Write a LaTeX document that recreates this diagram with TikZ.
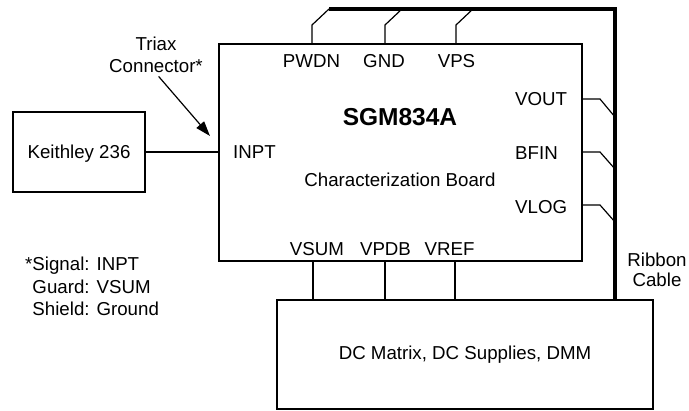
\documentclass[tikz,border=0pt]{standalone}
\usepackage{fontspec}
\setmainfont{Liberation Sans}
\usetikzlibrary{arrows.meta,fit,calc}
\tikzstyle{box}=[rectangle, draw=black, line width=1.6pt, inner sep=0pt]
\tikzstyle{annot}=[align=center, anchor=base, inner sep=0pt, font=\fontsize{18.7}{22}\selectfont]
\tikzstyle{wire}=[line width=1.2pt]
\tikzstyle{bus}=[line width=3.6pt]

\begin{document}
\begin{tikzpicture}[x=1pt, y=-1pt]
	\useasboundingbox (0,0) rectangle (689,411);

	% boxes
	\node[box, fit={(219,44) (582,261)}](board){};
	\node[box, fit={(13,112) (145,192)}](keithley){};
	\node[box, fit={(277,300) (653,409)}](dc){};

	\node[annot](keithleytxt) at (79,159){Keithley 236};
	\node[annot, font=\fontsize{24.5}{28}\selectfont\bfseries](title) at (400,126){SGM834A};
	\node[annot](boardtxt) at (400,187){Characterization Board};
	\node[annot](dctxt) at (465,360){DC Matrix, DC Supplies, DMM};

	% pins
	\node[annot, anchor=base west](inpt) at (233,159){INPT};
	\node[annot, anchor=base west](vout) at (515,106){VOUT};
	\node[annot, anchor=base west](bfin) at (515,160){BFIN};
	\node[annot, anchor=base west](vlog) at (515,214){VLOG};
	\node[annot](pwdn) at (311.5,67.5){PWDN};
	\node[annot](gnd) at (384,67.5){GND};
	\node[annot](vps) at (456.5,67.5){VPS};
	\node[annot](vsum) at (317,256){VSUM};
	\node[annot](vpdb) at (385.5,256){VPDB};
	\node[annot](vref) at (449.5,256){VREF};

	% notes (base = last line)
	\node[annot](triax) at (156,73){Triax\\Connector*};
	\node[annot, align=left, anchor=base west, font=\fontsize{18.7}{22.5}\selectfont](notes) at (25,316){*Signal: INPT\\\phantom{*}Guard: VSUM\\\phantom{*}Shield: Ground};
	\node[annot, font=\fontsize{18.7}{20}\selectfont](ribbon) at (657,287){Ribbon\\Cable};

	% ribbon cable
	\coordinate (busstart) at (329,9);
	\coordinate (buscorner) at (615,9);
	\draw[bus] (busstart) -- (buscorner) -- (buscorner |- dc.north);

	\coordinate (pwdnpin) at (312,44);
	\coordinate (gndpin) at (385,44);
	\coordinate (vpspin) at (456,44);
	\draw[wire] (pwdnpin) -- ++(0,-19) -- (busstart);
	\draw[wire] (gndpin) -- ++(0,-19) -- ($(gndpin)+(17,-35)$);
	\draw[wire] (vpspin) -- ++(0,-19) -- ($(vpspin)+(17,-35)$);

	\coordinate (voutpin) at (582,99);
	\coordinate (bfinpin) at (582,152);
	\coordinate (vlogpin) at (582,205);
	\draw[wire] (voutpin) -- ++(18,0) -- ($(voutpin)+(33,18)$);
	\draw[wire] (bfinpin) -- ++(18,0) -- ($(bfinpin)+(33,17)$);
	\draw[wire] (vlogpin) -- ++(18,0) -- ($(vlogpin)+(33,17)$);

	% dc lines
	\coordinate (vsumpin) at (313,261);
	\coordinate (vpdbpin) at (385,261);
	\coordinate (vrefpin) at (455,261);
	\draw[wire] (vsumpin) -- (vsumpin |- dc.north);
	\draw[wire] (vpdbpin) -- (vpdbpin |- dc.north);
	\draw[wire] (vrefpin) -- (vrefpin |- dc.north);

	% keithley to input
	\draw[wire] (keithley.east) -- (keithley.east -| board.west);
	\coordinate (triaxtip) at (210,136);
	\draw[wire, -{Triangle[length=15pt, width=10pt]}, shorten <=4pt] (triax.south) -- (triaxtip);

\end{tikzpicture}
\end{document}
